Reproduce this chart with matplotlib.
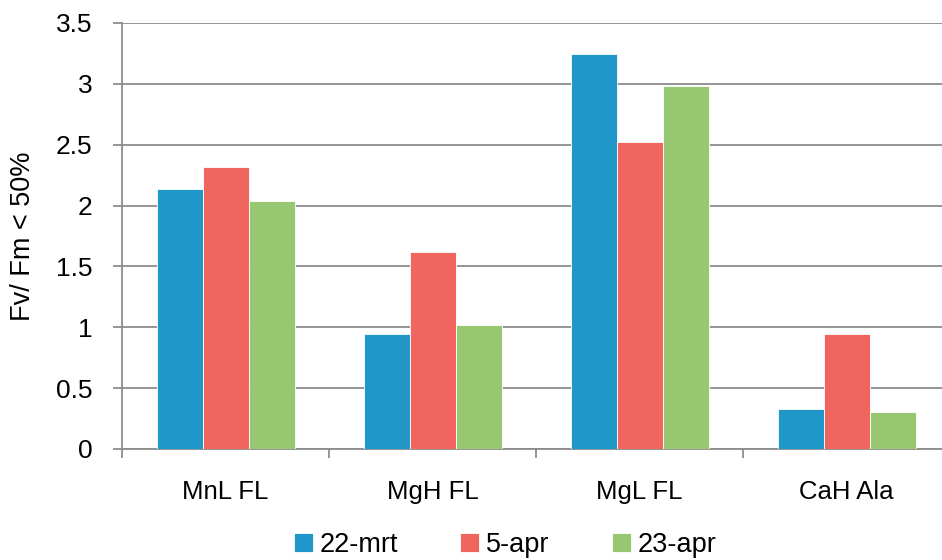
import numpy as np
import matplotlib
matplotlib.use('Agg')
import matplotlib.pyplot as plt

categories = ['MnL FL', 'MgH FL', 'MgL FL', 'CaH Ala']
series_names = ['22-mrt', '5-apr', '23-apr']
mrt22 = [2.14, 0.945, 3.245, 0.33]
apr5 = [2.32, 1.62, 2.525, 0.945]
apr23 = [2.04, 1.02, 2.98, 0.30]
y_ticks = [0, 0.5, 1, 1.5, 2, 2.5, 3, 3.5]
y_labels = ['0', '0.5', '1', '1.5', '2', '2.5', '3', '3.5']

colors = ['#1F97C9', '#F0665F', '#98C771']
grid_col = '#8C8C8C'

plt.rcParams['font.family'] = ['Liberation Sans', 'DejaVu Sans']

fig = plt.figure(figsize=(9.42, 5.6), dpi=100)
# axis runs a little past the right edge of the figure
ax = fig.add_axes([122/942, 111/560, 828/942, 426/560])

x = np.arange(len(categories))
w = 1/4.5
for i, (vals, name) in enumerate(zip([mrt22, apr5, apr23], series_names)):
    ax.bar(x + (i-1)*w, vals, w, color=colors[i], label=name,
           edgecolor='white', linewidth=0.6, zorder=3)

ax.set_xlim(-0.5, 3.5)
ax.set_ylim(0, 3.5)
ax.set_yticks(y_ticks)
ax.set_yticklabels(y_labels)
ax.yaxis.grid(True, color=grid_col, linewidth=1.3, zorder=0)
ax.set_axisbelow(True)

# category labels at centers, tick marks at group boundaries
ax.set_xticks(x)
ax.set_xticklabels(categories)
ax.set_xticks(np.arange(-0.5, 3.6, 1), minor=True)
ax.tick_params(axis='x', which='major', length=0, pad=22, labelsize=18.5)
ax.tick_params(axis='x', which='minor', length=6.5, width=1.3, color=grid_col, direction='out')
ax.tick_params(axis='y', length=6.5, width=1.3, color=grid_col, pad=15, labelsize=19)

for s in ['top', 'right']:
    ax.spines[s].set_visible(False)
for s in ['left', 'bottom']:
    ax.spines[s].set_color(grid_col)
    ax.spines[s].set_linewidth(1.3)

ax.set_ylabel('Fv/ Fm < 50%', fontsize=19.5, labelpad=14)

fig.legend(loc='center', bbox_to_anchor=(505/942, 15/560), ncol=3, frameon=False,
           fontsize=19.5, handlelength=0.7, handleheight=0.7, handletextpad=0.25,
           columnspacing=2.3)

fig.savefig('out.png', dpi=100)
